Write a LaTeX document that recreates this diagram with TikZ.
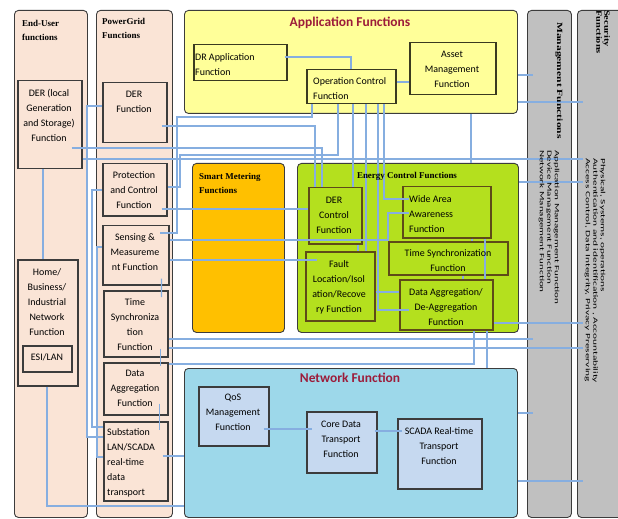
\documentclass[tikz,border=0pt]{standalone}
\usepackage{fontspec}
\setmainfont{Carlito}
\newfontfamily\headserif{Liberation Serif}
\usetikzlibrary{calc}
\definecolor{peach}{HTML}{FAE4D6}
\definecolor{edge}{HTML}{3C3C3C}
\definecolor{appyellow}{HTML}{FFFF99}
\definecolor{appedge}{HTML}{3A3A20}
\definecolor{meterorange}{HTML}{FFC000}
\definecolor{ctrlgreen}{HTML}{B4E01E}
\definecolor{ctrledge}{HTML}{5E4B18}
\definecolor{netblue}{HTML}{9DD8EA}
\definecolor{netbox}{HTML}{C6D9F0}
\definecolor{mgrey}{HTML}{C0C0C0}
\definecolor{titlered}{HTML}{9C1C3A}
\definecolor{link}{HTML}{86AEE0}
\tikzset{
  sz/.style 2 args={minimum width=#1bp, minimum height=#2bp},
  region/.style={draw=edge, line width=0.9bp, rounded corners=4bp, anchor=north west, inner sep=0pt},
  fnbox/.style={draw=edge, line width=1.5bp, anchor=north west, inner sep=0pt},
  txt/.style={font=\fontsize{10}{15}\selectfont, align=center, inner sep=0pt},
  ltxt/.style={txt, align=left, anchor=west},
  hdr/.style={font=\headserif\bfseries\fontsize{9}{14}\selectfont, align=left, anchor=west, inner sep=0pt},
  bigtitle/.style={font=\bfseries\fontsize{13.5}{16}\selectfont, text=titlered, inner sep=0pt},
  vtitle/.style={font=\headserif\bfseries\fontsize{8}{8}\selectfont, rotate=-90, anchor=west, align=left, inner sep=0pt},
  vtext/.style={font=\fontsize{6.5}{7.5}\selectfont, rotate=-90, anchor=west, align=left, inner sep=0pt},
  conn/.style={draw=link, line width=1.2bp},
}
\newcommand{\stretched}[2]{\scalebox{#1}[1]{#2}}
\begin{document}
\begin{tikzpicture}[x=1bp, y=-1bp]
\useasboundingbox (0,0) rectangle (618,519);
\fill[white] (0,0) rectangle (618,519);

% ---- large functional regions ----
\node[region, fill=peach, sz={73}{507}] (eucol) at (14,10) {};
\node[region, fill=peach, sz={76}{507}] (pgcol) at (96,10) {};
\node[region, fill=appyellow, sz={333}{103}] (appf) at (184,10) {};
\node[region, fill=meterorange, sz={92}{169}] (smf) at (192,163) {};
\node[region, fill=ctrlgreen, sz={221}{169}] (ecf) at (297,163) {};
\node[region, fill=netblue, sz={333}{149}] (netf) at (184,368) {};
\node[region, fill=mgrey, sz={44}{507}] (mgmt) at (527,10) {};
\node[region, fill=mgrey, sz={50}{507}] (sec) at (577,10) {};
\coordinate (mgtap) at (533,0);
\coordinate (sectap) at (583,0);

% ---- end-user and power grid functions ----
\node[fnbox, fill=peach, sz={64}{88}] (derlocal) at (17,80) {};
\node[fnbox, fill=peach, sz={60}{126}] (home) at (17,259) {};
\node[fnbox, fill=peach, sz={49}{26}] (esi) at (22,345) {};
\node[fnbox, fill=peach, sz={64}{60}] (derfn) at (102,82) {};
\node[fnbox, fill=peach, sz={64}{52}] (prot) at (102,163) {};
\node[fnbox, fill=peach, sz={66}{59}] (sens) at (102,225) {};
\node[fnbox, fill=peach, sz={64}{66}] (tsync) at (103,290) {};
\node[fnbox, fill=peach, sz={64}{52}] (dagg) at (103,362) {};
\node[fnbox, fill=peach, sz={64}{79}] (subst) at (103,421) {};

% ---- application functions ----
\node[fnbox, draw=appedge, fill=appyellow, sz={93}{36}] (drapp) at (193,44) {};
\node[fnbox, draw=appedge, fill=appyellow, sz={89}{34}] (opctrl) at (306,69) {};
\node[fnbox, draw=appedge, fill=appyellow, sz={86}{52}] (asset) at (409,42) {};

% ---- energy control functions ----
\node[fnbox, draw=ctrledge, fill=ctrlgreen, sz={53}{56}] (derctrl) at (308,187) {};
\node[fnbox, draw=ctrledge, fill=ctrlgreen, sz={69}{69}] (fault) at (305,251) {};
\node[fnbox, draw=ctrledge, fill=ctrlgreen, sz={88}{51}] (wide) at (402,186) {};
\node[fnbox, draw=ctrledge, fill=ctrlgreen, sz={119}{33}] (tsecf) at (388,241) {};
\node[fnbox, draw=ctrledge, fill=ctrlgreen, sz={93}{50}] (dadeagg) at (399,279) {};

% ---- network functions ----
\node[fnbox, fill=netbox, sz={70}{59}] (qos) at (198,386) {};
\node[fnbox, fill=netbox, sz={70}{61}] (core) at (306,411) {};
\node[fnbox, fill=netbox, sz={84}{70}] (scada) at (397,418) {};

% ---- connectors ----
\draw[conn] ($(drapp.east |- 0,57)+(-3,0)$) -| (351,0 |- opctrl.north);
\draw[conn] (opctrl.east |- 0,82) -- (asset.west |- 0,82);
\draw[conn] (471,0 |- appf.south) -- (471,0 |- ecf.north);
\draw[conn] (opctrl.south -| 312,0) |- (177,117) |- ($(sens.east |- 0,233)+(-10,0)$);
\draw[conn] (opctrl.south -| 338,0) |- (180,155) |- (prot.east |- 0,187);
\draw[conn] (opctrl.south -| 353,0) -- (derctrl.north -| 353,0);
\draw[conn] (opctrl.south -| 366,0) -- (fault.north -| 366,0);
\draw[conn] (opctrl.south -| 378,0) |- ($(dadeagg.west |- 0,310)+(10,0)$);
\draw[conn] (opctrl.south -| 384,0) |- ($(wide.west |- 0,199)+(7,0)$);
\draw[conn] ($(derfn.east |- 0,126)+(-6,0)$) -| (derctrl.north -| 315,0);
\draw[conn] ($(derlocal.east |- 0,148)+(-11,0)$) -| (derctrl.north -| 322,0);
\draw[conn] (derlocal.east |- 0,159) -- (sectap |- 0,159);
\draw[conn] ($(prot.east |- 0,209)+(-6,0)$) -- (derctrl.west |- 0,209);
\draw[conn] (sens.east |- 0,240) -| (388,213) -- ($(wide.west |- 0,213)+(7,0)$);
\draw[conn] (sens.east |- 0,260) -- ($(fault.west |- 0,260)+(12,0)$);
\draw[conn] (derctrl.south -| 358,0) -- (fault.north -| 358,0);
\draw[conn] (fault.east |- 0,292) -- (dadeagg.west |- 0,292);
\draw[conn] (wide.south -| 472,0) -- (tsecf.north -| 472,0);
\draw[conn] (wide.south -| 485,0) -- (dadeagg.north -| 485,0);
\draw[conn] (tsecf.south -| 463,0) -- (dadeagg.north -| 463,0);
\draw[conn] (dadeagg.south -| 474,0) |- (dagg.east |- 0,364);
\draw[conn] (dadeagg.south -| 487,0) -- (netf.north -| 487,0);
\draw[conn] (dadeagg.east |- 0,323) -- (sectap |- 0,323);
\draw[conn] (tsync.east |- 0,339) -- (mgtap |- 0,339);
\draw[conn] (tsync.east |- 0,348) -- (sectap |- 0,348);
\draw[conn] ($(sens.south east)+(-8,-7)$) -- ($(tsync.north east)+(-7,7)$);
\draw[conn] ($(tsync.south east)+(-8,-9)$) -- ($(dagg.north east)+(-8,4)$);
\draw[conn] ($(dagg.south east)+(-9,-12)$) -- ($(subst.north east)+(-9,9)$);
\draw[conn] (derfn.west |- 0,106) -| (87,437) -- (subst.west |- 0,437);
\draw[conn] (prot.west |- 0,190) -| (92,427) -- (subst.west |- 0,427);
\draw[conn] (sens.west |- 0,247) -| (97,457) -- (subst.west |- 0,457);
\draw[conn] ($(subst.east |- 0,456)+(-6,0)$) -- (netf.west |- 0,456);
\draw[conn] (home.south -| 47,0) |- (netf.west |- 0,506);
\draw[conn] (derlocal.south -| 43,0) -- (home.north -| 43,0);
\draw[conn] ($(qos.east |- 0,429)+(-6,0)$) -- ($(core.west |- 0,429)+(6,0)$);
\draw[conn] ($(core.east |- 0,431)+(-3,0)$) -- ($(scada.west |- 0,431)+(5,0)$);
\draw[conn] (appf.east |- 0,75) -- (mgtap |- 0,75);
\draw[conn] (appf.east |- 0,102) -- (sectap |- 0,102);
\draw[conn] (ecf.east |- 0,182) -- (sectap |- 0,182);
\draw[conn] (netf.east |- 0,413) -- (mgtap |- 0,413);
\draw[conn] (netf.east |- 0,481) -- (sectap |- 0,481);

% ---- headings ----
\node[hdr] (eutitle) at (22,30) {End-User\\functions};
\node[hdr] (pgtitle) at (102,28.5) {PowerGrid\\Functions};
\node[hdr] (smtitle) at (199,183) {Smart Metering\\Functions};
\node[hdr, anchor=center] (ecftitle) at (407,176) {Energy Control Functions};
\node[bigtitle] (apptitle) at (350,23) {Application Functions};
\node[bigtitle] (nettitle) at (350,378) {Network Function};
\node[vtitle] (mgtitle) at (559,22) {\stretched{1.45}{Management Functions}};
\node[vtext] (mgtext) at (549,150) {\stretched{1.7}{Application Management Function}\\\stretched{1.7}{Device Management Function}\\\stretched{1.7}{Network Management Function}};
\node[vtitle] (sectitle) at (603,10) {\stretched{1.3}{Security}\\\stretched{1.3}{Functions}};
\node[vtext] (sectext) at (595,158) {\stretched{1.75}{Physical, Systems, operations}\\\stretched{1.75}{Authentication and identification , Accountability}\\\stretched{1.75}{Access Control, Data Integrity, Privacy Preserving}};

% ---- function labels ----
\node[txt] (derlocal-t) at (49,115.5) {DER (local\\Generation\\and Storage)\\Function};
\node[txt] (home-t) at (47,302) {Home/\\Business/\\Industrial\\Network\\Function};
\node[txt] (esi-t) at (47,357) {ESI/LAN};
\node[txt] (derfn-t) at (134,101.5) {DER\\Function};
\node[txt] (prot-t) at (134,190) {Protection\\and Control\\Function};
\node[txt] (sens-t) at (135,252) {Sensing \&\\Measureme\\nt Function};
\node[txt] (tsync-t) at (135,324.5) {Time\\Synchroniza\\tion\\Function};
\node[txt] (dagg-t) at (135,388.5) {Data\\Aggregation\\Function};
\node[ltxt] (subst-t) at (107,463) {Substation\\LAN/SCADA\\real-time\\data\\transport};
\node[ltxt] (drapp-t) at (195,64.5) {DR Application\\Function};
\node[ltxt] (opctrl-t) at (313,89) {Operation Control\\Function};
\node[txt] (asset-t) at (452,69) {Asset\\Management\\Function};
\node[txt] (derctrl-t) at (334,215) {DER\\Control\\Function};
\node[txt] (fault-t) at (339,287.5) {Fault\\Location/Isol\\ation/Recove\\ry Function};
\node[ltxt] (wide-t) at (409,214) {Wide Area\\Awareness\\Function};
\node[txt] (tsecf-t) at (448,261) {Time Synchronization\\Function};
\node[txt] (dadeagg-t) at (446,307) {Data Aggregation/\\De-Aggregation\\Function};
\node[txt] (qos-t) at (233,412.5) {QoS\\Management\\Function};
\node[txt] (core-t) at (341,439) {Core Data\\Transport\\Function};
\node[txt] (scada-t) at (439,446.5) {SCADA Real-time\\Transport\\Function};
\end{tikzpicture}
\end{document}
